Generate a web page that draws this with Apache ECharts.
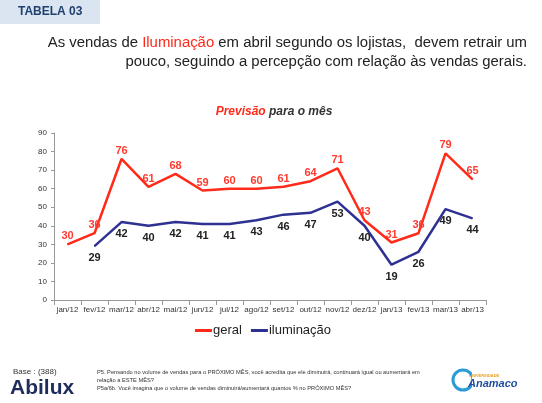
<!DOCTYPE html>
<html>
<head>
<meta charset="utf-8">
<script src="https://cdn.jsdelivr.net/npm/echarts@6/dist/echarts.min.js"></script>
<style>
  html, body { margin: 0; padding: 0; background: #fff; }
  #main { width: 542px; height: 403px; }
</style>
</head>
<body>
<div id="main"></div>
<script>
// meses do grafico
var months = ['jan/12', 'fev/12', 'mar/12', 'abr/12', 'mai/12', 'jun/12', 'jul/12', 'ago/12',
  'set/12', 'out/12', 'nov/12', 'dez/12', 'jan/13', 'fev/13', 'mar/13', 'abr/13'];
var geral = [30, 36, 76, 61, 68, 59, 60, 60, 61, 64, 71, 43, 31, 36, 79, 65];
var iluminacao = [null, 29, 42, 40, 42, 41, 41, 43, 46, 47, 53, 40, 19, 26, 49, 44];
var yTicks = [0, 10, 20, 30, 40, 50, 60, 70, 80, 90];

var RED = '#ff2a1a';
var BLUE = '#2e3192';
var FONT = '"Liberation Sans", Arial, sans-serif';

var chart = echarts.init(document.getElementById('main'));

chart.setOption({
  animation: false,
  textStyle: { fontFamily: FONT },
  title: [
    {
      text: 'Previsão {b|para o mês}',
      left: 269, top: 101, textAlign: 'center',
      textStyle: {
        color: RED, fontSize: 12, fontWeight: 'bold', fontStyle: 'italic',
        rich: { b: { color: '#333', fontSize: 12, fontWeight: 'bold', fontStyle: 'italic' } }
      }
    }
  ],
  legend: {
    left: 190, top: 319,
    itemWidth: 17, itemHeight: 3, itemGap: 9,
    icon: 'rect',
    textStyle: { fontSize: 13, color: '#222', padding: [0, 0, 0, -4] },
    data: ['geral', 'iluminação']
  },
  grid: { left: 54, right: 56, top: 133, bottom: 103, containLabel: false },
  xAxis: {
    type: 'category',
    data: months,
    boundaryGap: true,
    axisLine: { lineStyle: { color: '#999' } },
    axisTick: { show: true, alignWithLabel: false, lineStyle: { color: '#999' } },
    axisLabel: { fontSize: 8, color: '#333', margin: 6, interval: 0 }
  },
  yAxis: {
    type: 'value',
    min: 0, max: 90, interval: 10,
    axisLine: { show: true, lineStyle: { color: '#999' } },
    axisTick: { show: true, length: 3, lineStyle: { color: '#999' } },
    splitLine: { show: false },
    axisLabel: {
      fontSize: 8, color: '#333', margin: 7,
      formatter: function (v) { return yTicks.indexOf(v) >= 0 ? String(v) : ''; }
    }
  },
  series: [
    {
      name: 'geral', type: 'line', data: geral,
      symbol: 'circle', symbolSize: 1, showSymbol: true,
      lineStyle: { color: RED, width: 2.5 }, itemStyle: { color: RED },
      label: { show: true, position: 'top', distance: 2, color: '#ff3b30', fontSize: 11, fontWeight: 'bold' }
    },
    {
      name: 'iluminação', type: 'line', data: iluminacao,
      symbol: 'circle', symbolSize: 1, showSymbol: true,
      lineStyle: { color: BLUE, width: 2.5 }, itemStyle: { color: BLUE },
      label: { show: true, position: 'bottom', distance: 6, color: '#222', fontSize: 11, fontWeight: 'bold' }
    }
  ],
  graphic: [
    // cabecalho
    { type: 'rect', shape: { x: 0, y: 0, width: 100, height: 24 }, style: { fill: '#dbe5f1' } },
    { type: 'text', left: 18, top: 6, style: { text: 'TABELA 03', fill: '#1f3f6e', font: 'bold 12px ' + FONT } },
    {
      type: 'text', right: 15, top: 35,
      style: {
        text: 'As vendas de {r|Iluminação} em abril segundo os lojistas,  devem retrair um',
        fill: '#222', font: '14.9px ' + FONT, align: 'right',
        rich: { r: { fill: RED, font: '14.9px ' + FONT } }
      }
    },
    { type: 'text', right: 15, top: 54, style: { text: 'pouco, seguindo a percepção com relação às vendas gerais.', fill: '#222', font: '14.9px ' + FONT } },
    // rodape
    { type: 'text', left: 13, top: 368, style: { text: 'Base : (388)', fill: '#333', font: '8px ' + FONT } },
    { type: 'text', left: 10, top: 378, style: { text: 'Abilux', fill: '#1f2d5c', font: 'bold 21px ' + FONT } },
    { type: 'text', left: 97, top: 369, style: { text: 'P5. Pensando no volume de vendas para o PRÓXIMO MÊS, você acredita que ele diminuirá, continuará igual ou aumentará em', fill: '#333', font: '5.7px ' + FONT } },
    { type: 'text', left: 97, top: 377, style: { text: 'relação a ESTE MÊS?', fill: '#333', font: '5.7px ' + FONT } },
    { type: 'text', left: 97, top: 385, style: { text: 'P5a/6b. Você imagina que o volume de vendas diminuirá/aumentará quantos % no PRÓXIMO MÊS?', fill: '#333', font: '5.7px ' + FONT } },
    { type: 'circle', shape: { cx: 463, cy: 380, r: 10 }, style: { fill: 'none', stroke: '#2a9bd6', lineWidth: 3 } },
    { type: 'rect', shape: { x: 472, y: 366, width: 20, height: 22 }, style: { fill: '#fff' } },
    { type: 'text', left: 469, top: 374, style: { text: 'UNIVERSIDADE', fill: '#e8a020', font: 'bold 4px ' + FONT } },
    { type: 'text', left: 468, top: 378, style: { text: 'Anamaco', fill: '#1f4f9c', font: 'bold italic 11px ' + FONT } }
  ]
});
</script>
</body>
</html>
